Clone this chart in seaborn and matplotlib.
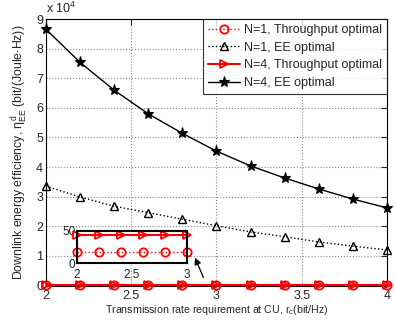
import matplotlib
matplotlib.use("Agg")
import matplotlib.pyplot as plt
from matplotlib.ticker import FuncFormatter
import seaborn as sns
import pandas as pd
import numpy as np

# Data (rate in bit/Hz, EE in bit/(Joule*Hz))
rate = [2.0, 2.2, 2.4, 2.6, 2.8, 3.0, 3.2, 3.4, 3.6, 3.8, 4.0]
ee_n4_ee = [86600, 75400, 66000, 58000, 51400, 45400, 40400, 36300, 32600, 29200, 26200]
ee_n1_ee = [33600, 29900, 26800, 24600, 22400, 20200, 18100, 16500, 14700, 13300, 12000]
ee_n4_tp = [43, 43, 43, 43, 43, 43, 43, 43, 43, 43, 43]
ee_n1_tp = [17, 17, 17, 17, 17, 17, 17, 17, 17, 17, 17]

# Zoomed inset range
inset_rate = rate[:6]
inset_n4_tp = ee_n4_tp[:6]
inset_n1_tp = ee_n1_tp[:6]

labels = ["N=1, Throughput optimal", "N=1, EE optimal",
          "N=4, Throughput optimal", "N=4, EE optimal"]

sns.set_style("white")
plt.rcParams['font.family'] = ['Liberation Sans', 'DejaVu Sans']
plt.rcParams['mathtext.fontset'] = 'custom'
plt.rcParams['mathtext.rm'] = 'Liberation Sans'
plt.rcParams['mathtext.it'] = 'Liberation Sans'

fig = plt.figure(figsize=(3.95, 3.23), dpi=100)
ax = fig.add_axes([0.116, 0.116, 0.864, 0.825])

styles = [
    (ee_n1_tp, dict(color='red', linestyle=':', marker='o', markerfacecolor='none',
                    markeredgecolor='red', markersize=6, markeredgewidth=1.3)),
    (ee_n1_ee, dict(color='black', linestyle=':', marker='^', markerfacecolor='none',
                    markeredgecolor='black', markersize=6, markeredgewidth=1.0)),
    (ee_n4_tp, dict(color='red', linestyle='-', marker='>', markerfacecolor='none',
                    markeredgecolor='red', markersize=6, markeredgewidth=1.3, linewidth=1.5)),
    (ee_n4_ee, dict(color='black', linestyle='-', marker='*', markerfacecolor='black',
                    markeredgecolor='black', markersize=8, markeredgewidth=0.8)),
]
for (vals, kw), lab in zip(styles, labels):
    df = pd.DataFrame({'rate': rate, 'ee': vals})
    kw.setdefault('linewidth', 1.0)
    sns.lineplot(data=df, x='rate', y='ee', ax=ax, label=lab, clip_on=False, zorder=3, **kw)

ax.set_xlim(2, 4)
ax.set_ylim(0, 90000)
ax.set_xticks([2, 2.5, 3, 3.5, 4])
ax.set_xticklabels(['2', '2.5', '3', '3.5', '4'])
ax.set_yticks(np.arange(0, 90001, 10000))
ax.yaxis.set_major_formatter(FuncFormatter(lambda v, p: f"{v / 1e4:.0f}"))
ax.grid(True, linestyle=':', color='#888888', linewidth=0.8)
ax.tick_params(direction='in', length=4, labelsize=9, top=True, right=True, pad=2)
ax.tick_params(axis='x', pad=3)
for s in ax.spines.values():
    s.set_color('black')
    s.set_linewidth(0.8)
ax.text(0.0, 1.01, r"x 10$^4$", transform=ax.transAxes, fontsize=9, ha='left', va='bottom')

ax.set_xlabel(r"Transmission rate requirement at CU, r$_c$(bit/Hz)", fontsize=7.7, labelpad=1)
ax.set_ylabel(r"Downlink energy efficiency, $\eta^{d}_{EE}$ (bit/(Joule$\cdot$Hz))",
              fontsize=8.8, labelpad=4)

leg = ax.legend(loc='upper right', fontsize=9, frameon=True, fancybox=False,
                borderaxespad=0.0, handlelength=2.6, labelspacing=0.45,
                borderpad=0.4, handletextpad=0.3)
leg.get_frame().set_edgecolor('black')
leg.get_frame().set_linewidth(0.8)

# Arrow pointing at the inset
ax.annotate('', xy=(2.868, 10300), xytext=(2.93, 1800),
            arrowprops=dict(arrowstyle='-|>', color='black', lw=0.9, mutation_scale=10))

# Inset axes
axin = fig.add_axes([0.194, 0.185, 0.28, 0.100])
axin.set_facecolor('white')
for vals, kw in [(inset_n1_tp, styles[0][1]), (inset_n4_tp, styles[2][1])]:
    df = pd.DataFrame({'rate': inset_rate, 'ee': vals})
    sns.lineplot(data=df, x='rate', y='ee', ax=axin, clip_on=False, **kw)
axin.set_xlim(2, 3)
axin.set_ylim(0, 50)
axin.set_xticks([2, 2.5, 3])
axin.set_xticklabels(['2', '2.5', '3'])
axin.set_yticks([0, 50])
axin.set_xlabel('')
axin.set_ylabel('')
axin.tick_params(direction='in', length=2, labelsize=8.5, pad=1)
axin.tick_params(axis='x', pad=4)
for s in axin.spines.values():
    s.set_color('black')
    s.set_linewidth(1.5)

fig.savefig("out.png", dpi=100)
